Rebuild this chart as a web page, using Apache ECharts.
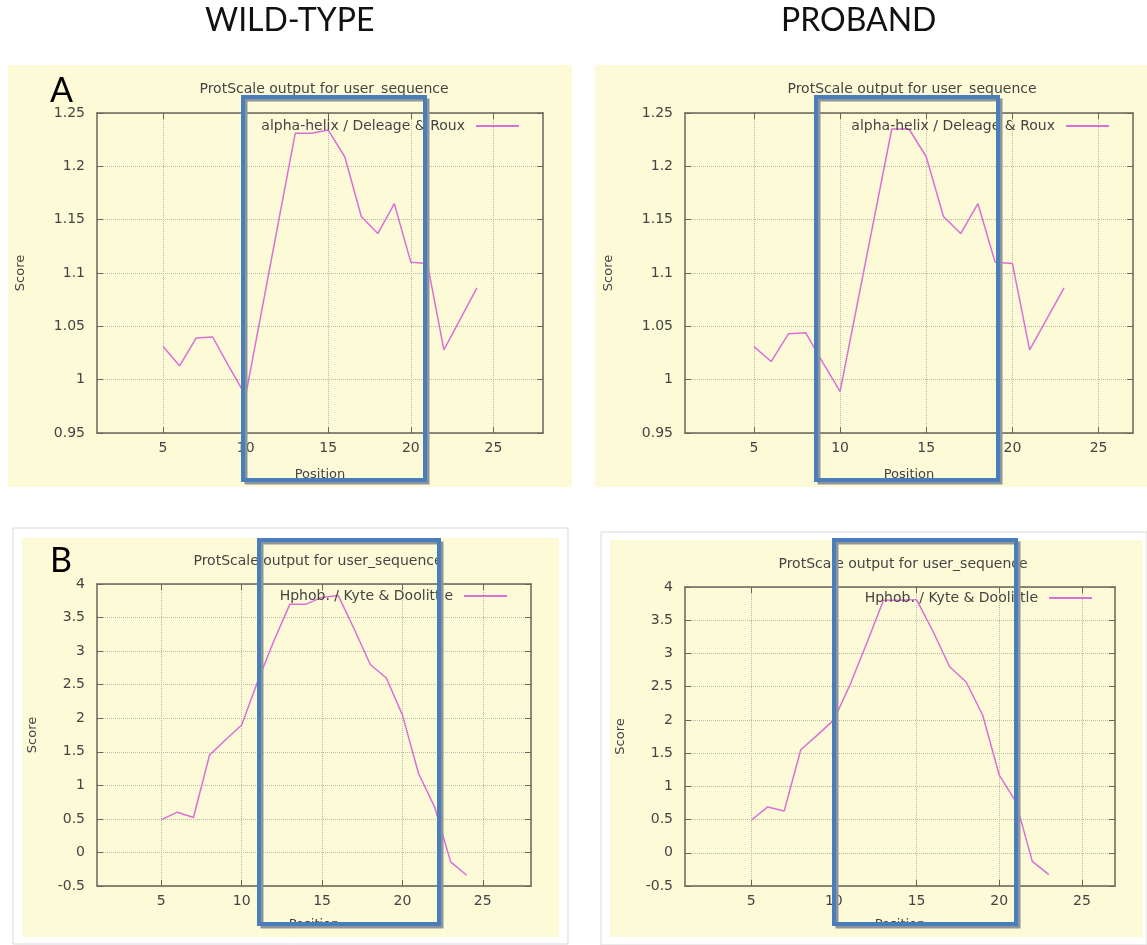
<!DOCTYPE html>
<html>
<head>
<meta charset="utf-8">
<script src="https://cdn.jsdelivr.net/npm/echarts@6/dist/echarts.min.js"></script>
<style>
html,body{margin:0;padding:0;background:#fff;}
#chart{width:1147px;height:945px;}
</style>
</head>
<body>
<div id="chart"></div>
<script>
// ---- data ----
const positionsWT = [5,6,7,8,9,10,11,12,13,14,15,16,17,18,19,20,21,22,23,24];
const positionsProband = [5,6,7,8,9,10,11,12,13,14,15,16,17,18,19,20,21,22,23];
const alphaWT = [1.031,1.013,1.039,1.040,1.012,0.985,1.067,1.149,1.231,1.231,1.234,1.209,1.153,1.137,1.165,1.110,1.109,1.028,1.057,1.086];
const alphaProband = [1.031,1.017,1.043,1.044,1.016,0.989,1.071,1.153,1.235,1.235,1.209,1.153,1.137,1.165,1.110,1.109,1.028,1.057,1.086];
const hphobWT = [0.49,0.60,0.52,1.45,1.68,1.90,2.55,3.15,3.70,3.70,3.80,3.83,3.33,2.80,2.60,2.05,1.18,0.68,-0.14,-0.34];
const hphobProband = [0.49,0.69,0.63,1.55,1.77,2.00,2.54,3.16,3.80,3.80,3.81,3.33,2.80,2.57,2.07,1.17,0.77,-0.13,-0.33];
const xTicks = [5,10,15,20,25];
const alphaRange = [0.95, 1.25, 0.05];
const hphobRange = [-0.5, 4, 0.5];
const xRangeWT = [1, 28];
const xRangeProband = [1, 27];
const alphaName = 'alpha-helix / Deleage & Roux';
const hphobName = 'Hphob. / Kyte & Doolittle';
const chartTitle = 'ProtScale output for user_sequence';
const headers = ['WILD-TYPE', 'PROBAND'];
const panelLetters = ['A', 'B'];
const xName = 'Position';
const yName = 'Score';

// ---- layout ----
const FONT = 'DejaVu Sans';
const TXT = '#444';
const AX = '#66665a';
const GRIDC = '#b9b9a8';
const BG = '#fcfad7';
const LINE = '#da70d6';

const panels = [
  {pos: positionsWT, vals: alphaWT, name: alphaName, yr: alphaRange, xr: xRangeWT,
   grid: {left: 97, top: 113, width: 446, height: 320}, titleX: 319, titleY: 77,
   legendRight: 1147 - 524, legendTop: 114, yGap: 70, xGap: 35},
  {pos: positionsProband, vals: alphaProband, name: alphaName, yr: alphaRange, xr: xRangeProband,
   grid: {left: 685, top: 113, width: 448, height: 320}, titleX: 907, titleY: 77,
   legendRight: 1147 - 1114, legendTop: 114, yGap: 70, xGap: 35},
  {pos: positionsWT, vals: hphobWT, name: hphobName, yr: hphobRange, xr: xRangeWT,
   grid: {left: 97, top: 584, width: 434, height: 302}, titleX: 313, titleY: 549,
   legendRight: 1147 - 512, legendTop: 584, yGap: 58, xGap: 32},
  {pos: positionsProband, vals: hphobProband, name: hphobName, yr: hphobRange, xr: xRangeProband,
   grid: {left: 685, top: 587, width: 430, height: 299}, titleX: 898, titleY: 552,
   legendRight: 1147 - 1097, legendTop: 586, yGap: 58, xGap: 32}
];

const grids = [], xAxes = [], yAxes = [], series = [], titles = [], legends = [];
panels.forEach((p, i) => {
  grids.push(Object.assign({containLabel: false, show: false}, p.grid));
  const lineStyle = {color: AX, width: 1.5};
  const tickStyle = {color: AX, width: 1};
  xAxes.push({
    type: 'value', gridIndex: i, min: p.xr[0], max: p.xr[1],
    axisLine: {show: true, onZero: false, lineStyle},
    axisTick: {show: true, inside: true, length: 6, customValues: xTicks, lineStyle: tickStyle},
    axisLabel: {customValues: xTicks, color: TXT, fontSize: 14, fontFamily: FONT, margin: 8},
    splitLine: {show: true, lineStyle: {type: 'dotted', color: GRIDC, width: 1}},
    name: xName, nameLocation: 'middle', nameGap: p.xGap,
    nameTextStyle: {color: TXT, fontSize: 13, fontFamily: FONT}
  });
  xAxes.push({
    type: 'value', gridIndex: i, min: p.xr[0], max: p.xr[1], position: 'top',
    axisLine: {show: true, onZero: false, lineStyle},
    axisTick: {show: true, inside: true, length: 6, customValues: xTicks, lineStyle: tickStyle},
    axisLabel: {show: false}, splitLine: {show: false}
  });
  yAxes.push({
    type: 'value', gridIndex: i, min: p.yr[0], max: p.yr[1], interval: p.yr[2],
    axisLine: {show: true, onZero: false, lineStyle},
    axisTick: {show: true, inside: true, length: 6, lineStyle: tickStyle},
    axisLabel: {color: TXT, fontSize: 14, fontFamily: FONT, margin: 12},
    splitLine: {show: true, lineStyle: {type: 'dotted', color: GRIDC, width: 1}},
    name: yName, nameLocation: 'middle', nameGap: p.yGap, nameRotate: 90,
    nameTextStyle: {color: TXT, fontSize: 13, fontFamily: FONT}
  });
  yAxes.push({
    type: 'value', gridIndex: i, min: p.yr[0], max: p.yr[1], interval: p.yr[2], position: 'right',
    axisLine: {show: true, onZero: false, lineStyle},
    axisTick: {show: true, inside: true, length: 6, lineStyle: tickStyle},
    axisLabel: {show: false}, splitLine: {show: false}
  });
  series.push({
    type: 'line', name: p.name, xAxisIndex: 2 * i, yAxisIndex: 2 * i,
    data: p.pos.map((x, k) => [x, p.vals[k]]),
    symbol: 'none', lineStyle: {color: LINE, width: 1.5}, itemStyle: {color: LINE},
    animation: false, z: 3
  });
  titles.push({
    text: chartTitle, left: p.titleX, top: p.titleY, textAlign: 'center',
    textStyle: {color: TXT, fontSize: 14, fontWeight: 'normal', fontFamily: FONT}
  });
  legends.push({
    data: [p.name], right: p.legendRight, top: p.legendTop, align: 'right',
    icon: 'rect', itemWidth: 43, itemHeight: 2, selectedMode: false,
    textStyle: {color: TXT, fontSize: 14, fontFamily: FONT, padding: [0, 6, 0, 0]}
  });
});

// decorative / annotation graphics
const bgRects = [
  {x: 13, y: 528, w: 555, h: 416, fill: '#fff', stroke: '#d9d9d9'},
  {x: 601, y: 532, w: 546, h: 413, fill: '#fff', stroke: '#d9d9d9'},
  {x: 8, y: 65, w: 564, h: 422, fill: BG},
  {x: 595, y: 65, w: 552, h: 422, fill: BG},
  {x: 22, y: 538, w: 537, h: 399, fill: BG},
  {x: 610, y: 540, w: 533, h: 397, fill: BG}
];
const boxes = [
  {x: 243, y: 97, w: 182, h: 383},
  {x: 816, y: 97, w: 182, h: 383},
  {x: 259, y: 540, w: 180, h: 384},
  {x: 834, y: 540, w: 182, h: 384}
];
const graphic = [];
bgRects.forEach(r => graphic.push({
  type: 'rect', z: -10, silent: true,
  shape: {x: r.x, y: r.y, width: r.w, height: r.h},
  style: {fill: r.fill, stroke: r.stroke || null, lineWidth: 1}
}));
boxes.forEach(b => {
  graphic.push({type: 'rect', z: 100, silent: true,
    shape: {x: b.x + 3, y: b.y + 3, width: b.w, height: b.h},
    style: {fill: null, stroke: '#8e949c', lineWidth: 3}});
  graphic.push({type: 'rect', z: 101, silent: true,
    shape: {x: b.x, y: b.y, width: b.w, height: b.h},
    style: {fill: null, stroke: '#4a7ebb', lineWidth: 4}});
});
[[290, 23], [866, 23]].forEach((c, i) => graphic.push({
  type: 'text', z: 50, left: c[0] - 85, top: c[1] - 18,
  style: {text: headers[i], x: 0, y: 0, fill: '#111', font: '32px Lato', textAlign: 'left'}
}));
[[50, 74], [50, 544]].forEach((c, i) => graphic.push({
  type: 'text', z: 50, left: c[0], top: c[1],
  style: {text: panelLetters[i], fill: '#000', font: '34px Lato'}
}));

const chart = echarts.init(document.getElementById('chart'), null, {renderer: 'canvas'});
chart.setOption({
  animation: false,
  backgroundColor: '#fff',
  title: titles,
  legend: legends,
  grid: grids,
  xAxis: xAxes,
  yAxis: yAxes,
  series: series,
  graphic: graphic
});
</script>
</body>
</html>
